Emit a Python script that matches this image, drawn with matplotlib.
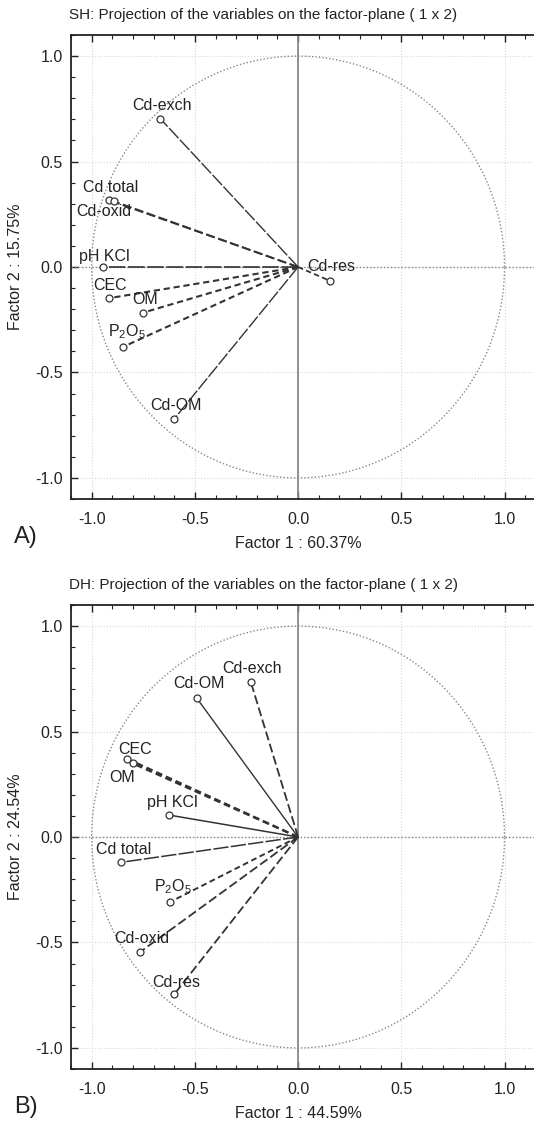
import matplotlib
matplotlib.use('Agg')
import matplotlib.pyplot as plt
import numpy as np
from matplotlib.ticker import MultipleLocator

plt.rcParams['font.family'] = ['Liberation Sans', 'DejaVu Sans']
plt.rcParams['mathtext.default'] = 'regular'

# panel A (SH)
sh_vars = ['Cd-exch', 'Cd total', 'Cd-oxid', 'pH KCl', 'CEC', 'OM', 'P$_2$O$_5$', 'Cd-OM', 'Cd-res']
sh_f1 = [-0.667, -0.915, -0.893, -0.946, -0.917, -0.749, -0.846, -0.599, 0.153]
sh_f2 = [0.703, 0.316, 0.312, 0.000, -0.148, -0.216, -0.378, -0.719, -0.065]

# panel B (DH)
dh_vars = ['Cd-exch', 'Cd-OM', 'CEC', 'OM', 'pH KCl', 'Cd total', 'P$_2$O$_5$', 'Cd-oxid', 'Cd-res']
dh_f1 = [-0.229, -0.492, -0.828, -0.801, -0.625, -0.857, -0.620, -0.765, -0.600]
dh_f2 = [0.735, 0.660, 0.371, 0.349, 0.104, -0.120, -0.308, -0.545, -0.746]

sh_title = 'SH: Projection of the variables on the factor-plane ( 1 x 2)'
dh_title = 'DH: Projection of the variables on the factor-plane ( 1 x 2)'
sh_axes = ('Factor 1 : 60.37%', 'Factor 2 : 15.75%')
dh_axes = ('Factor 1 : 44.59%', 'Factor 2 : 24.54%')

# line styles and label offsets (pixels)
solid = '-'
longd = (0, (10, 1.5))
medd = (0, (5, 2))
shortd = (0, (3, 1.8))

sh_style = [(longd, 1.0), (medd, 1.3), (medd, 1.3), (longd, 1.2), (shortd, 1.5),
            (shortd, 1.5), (shortd, 1.5), (longd, 1.0), (shortd, 1.3)]
sh_off = [(2, 13), (1, 13), (-10, -10), (2, 11), (1, 13), (2, 13), (3, 15), (2, 13), (2, 14)]

dh_style = [(medd, 1.3), (solid, 1.0), (shortd, 1.6), (shortd, 1.6), (solid, 1.1),
            (longd, 1.1), (shortd, 1.4), (medd, 1.3), (medd, 1.3)]
dh_off = [(1, 13), (2, 14), (8, 9), (-11, -14), (3, 13), (2, 13), (3, 15), (2, 13), (2, 12)]

W, H = 534, 1122
fig = plt.figure(figsize=(W / 100, H / 100), dpi=100)

XMIN, XMAX = -1.1, 1.25
ax_left = 71 / W
ax_w = (298 + XMAX * 206.5 - 71) / W


def panel(top_px, names, f1, f2, styles, offs, title, labels, tag):
    bottom = 1 - (top_px + 464) / H
    ax = fig.add_axes([ax_left, bottom, ax_w, 464 / H])
    ax.set_xlim(XMIN, XMAX)
    ax.set_ylim(-1.1, 1.1)

    ax.spines['right'].set_visible(False)
    for s in ['left', 'top', 'bottom']:
        ax.spines[s].set_linewidth(1.3)
        ax.spines[s].set_color('#222222')

    ax.xaxis.set_major_locator(MultipleLocator(0.5))
    ax.xaxis.set_minor_locator(MultipleLocator(0.1))
    ax.yaxis.set_major_locator(MultipleLocator(0.5))
    ax.yaxis.set_minor_locator(MultipleLocator(0.1))
    ax.tick_params(which='both', direction='in', top=True, bottom=True, left=True, right=False,
                   color='#222222')
    ax.tick_params(which='major', length=5, width=1)
    ax.tick_params(which='minor', length=3, width=0.8)
    ax.tick_params(axis='x', pad=9, labelsize=11.5, labelcolor='#222222')
    ax.tick_params(axis='y', pad=6, labelsize=11.5, labelcolor='#222222')
    ax.xaxis.set_major_formatter(lambda v, p: f'{v:.1f}' if abs(v) > 1e-9 else '0.0')
    ax.yaxis.set_major_formatter(lambda v, p: f'{v:.1f}' if abs(v) > 1e-9 else '0.0')
    ax.grid(True, which='major', linestyle=':', color='#d8d8d8', linewidth=0.8)

    t = np.linspace(0, 2 * np.pi, 400)
    ax.plot(np.cos(t), np.sin(t), linestyle=(0, (1, 1.5)), color='#888888', linewidth=1)
    ax.axvline(0, color='#888888', linewidth=1.3)
    ax.axhline(0, color='#888888', linewidth=1, linestyle=(0, (1, 1.5)))

    for name, x, y, (ls, lw), (dx, dy) in zip(names, f1, f2, styles, offs):
        ax.plot([0, x], [0, y], linestyle=ls, linewidth=lw, color='#333333')
        ax.plot(x, y, 'o', markersize=5, markerfacecolor='white', markeredgecolor='#333333',
                markeredgewidth=0.9)
        ax.annotate(name, (x, y), xytext=(dx, dy), textcoords='offset pixels',
                    ha='center', va='center', fontsize=11.5, color='#222222')

    ax.set_xlabel(labels[0], fontsize=11.5, color='#222222')
    ax.set_ylabel(labels[1], fontsize=11.5, color='#222222')
    ax.xaxis.set_label_coords((0 - XMIN) / (XMAX - XMIN), -0.08)
    ax.yaxis.set_label_coords(-48 / (ax_w * W), 0.5)

    fig.text(69 / W, 1 - (top_px - 20) / H, title, ha='left', va='center', fontsize=11,
             color='#222222')
    fig.text(14 / W, 1 - (top_px + 502) / H, tag, ha='left', va='center', fontsize=17,
             color='#222222')
    return ax


panel(35, sh_vars, sh_f1, sh_f2, sh_style, sh_off, sh_title, sh_axes, 'A)')
panel(605, dh_vars, dh_f1, dh_f2, dh_style, dh_off, dh_title, dh_axes, 'B)')

fig.savefig('out.png', dpi=100)
